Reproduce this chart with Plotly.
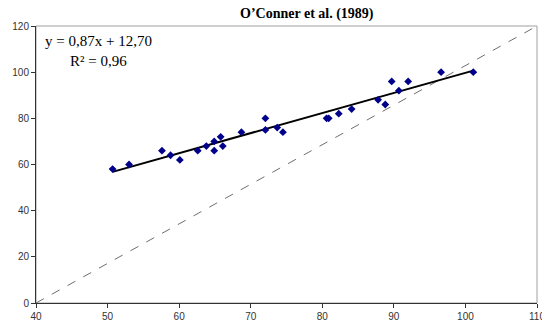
import plotly.graph_objects as go
import numpy as np

# Observed vs. predicted values (O'Conner et al., 1989)
x_obs = [50.7, 53.0, 57.6, 58.8, 60.1, 62.6, 63.8, 64.9, 64.9, 65.8, 66.1,
         68.7, 72.05, 72.05, 73.7, 74.5, 80.6, 80.9, 82.3, 84.1, 87.8, 88.8,
         89.7, 90.7, 92.0, 96.6, 101.1]
y_obs = [58, 60, 66, 64, 62, 66, 68, 70, 66, 72, 68,
         74, 80, 75, 76, 74, 80, 80, 82, 84, 88, 86,
         96, 92, 96, 100, 100]

# Linear trend reported on the chart
slope = 0.87
intercept = 12.70
r_squared = 0.96

# Axis limits and ticks
x_range = [40, 110]
y_range = [0, 120]
x_ticks = [40, 50, 60, 70, 80, 90, 100, 110]
y_ticks = [0, 20, 40, 60, 80, 100, 120]

fig = go.Figure()

# Corner-to-corner dashed reference line
fig.add_trace(go.Scatter(
    x=x_range, y=y_range, mode="lines",
    line=dict(color="#6e6e6e", width=1, dash="dash"),
    hoverinfo="skip", showlegend=False,
))

# Trend line over the observed range
x_fit = np.array([min(x_obs), max(x_obs)])
fig.add_trace(go.Scatter(
    x=x_fit, y=slope * x_fit + intercept, mode="lines",
    line=dict(color="#000000", width=2),
    showlegend=False,
))

fig.add_trace(go.Scatter(
    x=x_obs, y=y_obs, mode="markers",
    marker=dict(symbol="diamond", size=6, color="#00008b"),
    showlegend=False,
))

eq_text = (f"y = {slope:.2f}x + {intercept:.2f}".replace(".", ",")
           + "<br>" + f"R² = {r_squared:.2f}".replace(".", ","))

fig.add_annotation(
    x=0.125, y=0.911, xref="paper", yref="paper",
    text=eq_text, showarrow=False, align="center",
    xanchor="center", yanchor="middle",
    font=dict(family="Liberation Serif", size=15, color="#000000"),
)

# Light frame on top/right of the plotting area
fig.add_shape(type="rect", xref="paper", yref="paper", x0=0, y0=0, x1=1, y1=1,
              line=dict(color="#a0a0a0", width=1), layer="below")

tick_font = dict(family="Liberation Sans", size=10, color="#333333")

fig.update_xaxes(
    range=x_range, tickvals=x_ticks, showgrid=False, zeroline=False,
    showline=True, linecolor="#333333", linewidth=1,
    ticks="outside", ticklen=4, tickcolor="#333333",
    tickfont=tick_font, ticklabeloverflow="allow", automargin=False,
)
fig.update_yaxes(
    range=y_range, tickvals=y_ticks, showgrid=False, zeroline=False,
    showline=True, linecolor="#333333", linewidth=1,
    ticks="outside", ticklen=4, tickcolor="#333333",
    tickfont=tick_font, automargin=False,
)

fig.update_layout(
    width=542, height=324,
    margin=dict(l=35.5, r=5.3, t=26, b=21.3),
    paper_bgcolor="white", plot_bgcolor="white",
    title=dict(
        text="<b>O’Conner et al. (1989)</b>",
        x=0.566, xanchor="center", y=0.96, yanchor="middle",
        font=dict(family="Liberation Serif", size=14, color="#000000"),
    ),
)

fig.write_html("out.html")
